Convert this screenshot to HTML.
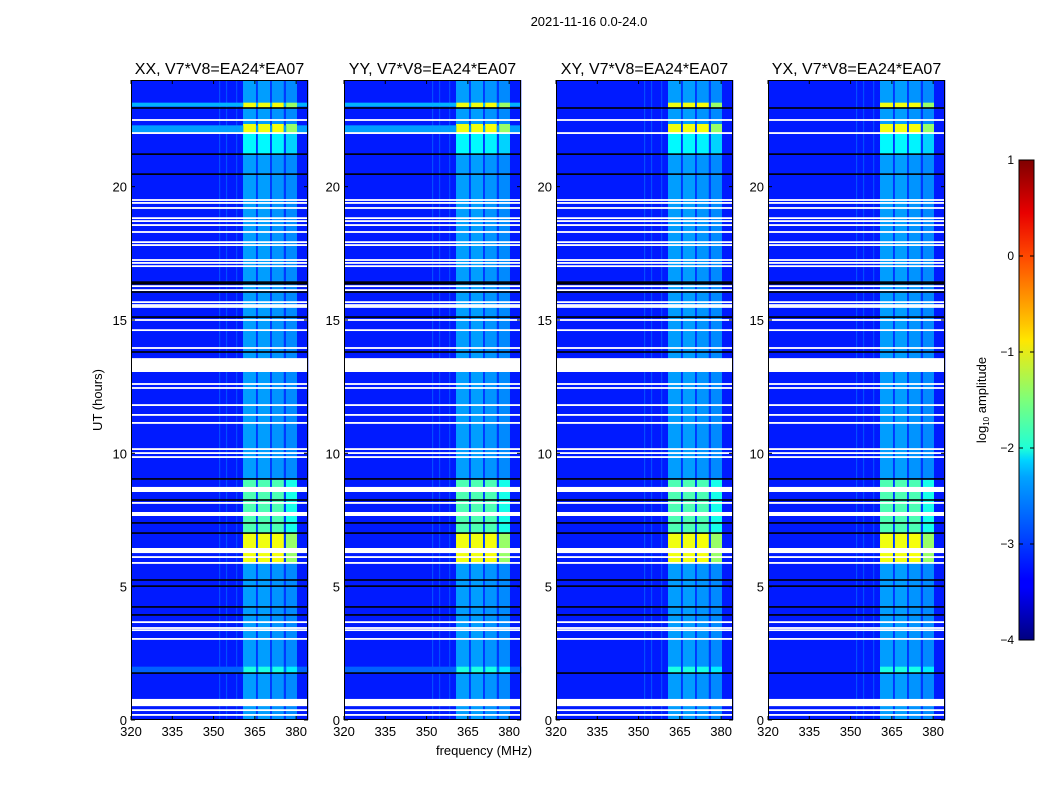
<!DOCTYPE html>
<html><head><meta charset="utf-8"><style>
body{margin:0;background:#fff;}
svg{display:block;font-family:"Liberation Sans",sans-serif;}
</style></head><body>
<svg id="fig" width="1050" height="800" viewBox="0 0 1050 800">
<defs>
<linearGradient id="jet" x1="0" y1="1" x2="0" y2="0">
<stop offset="0" stop-color="#00007f"/><stop offset="0.11" stop-color="#0000ff"/>
<stop offset="0.125" stop-color="#0000ff"/><stop offset="0.34" stop-color="#00a4ff"/>
<stop offset="0.375" stop-color="#00d4ff"/><stop offset="0.4" stop-color="#1fffd7"/>
<stop offset="0.5" stop-color="#7dff7a"/><stop offset="0.625" stop-color="#ffe600"/>
<stop offset="0.66" stop-color="#ffc400"/><stop offset="0.8" stop-color="#ff4800"/>
<stop offset="0.89" stop-color="#e80000"/><stop offset="1" stop-color="#7f0000"/>
</linearGradient>
</defs>
<text x="589" y="26" font-size="13" text-anchor="middle">2021-11-16 0.0-24.0</text>
<text x="484" y="755" font-size="13" text-anchor="middle">frequency (MHz)</text>
<text transform="translate(102,400) rotate(-90)" font-size="13" text-anchor="middle">UT (hours)</text>
<g id="panels"></g>
<g id="cbar"></g>
</svg>
<script>
// ---- data ----
const panelTitles = ["XX, V7*V8=EA24*EA07","YY, V7*V8=EA24*EA07","XY, V7*V8=EA24*EA07","YX, V7*V8=EA24*EA07"];
const panelHasBgRows = [true, true, false, false];
const xTicks = [320,335,350,365,380];
const yTicks = [0,5,10,15,20];
const cbTicks = [1,0,-1,-2,-3,-4];
// frequency bands (MHz edges) and base log10 amplitude
const bandStart = [320, 352.0, 352.4, 354.5, 354.9, 358.2, 358.6, 360.7, 365.4, 366.1, 370.5, 371.2, 375.5, 376.3, 380.3];
const bandEnd   = [352.0, 352.4, 354.5, 354.9, 358.2, 358.6, 360.7, 365.4, 366.1, 370.5, 371.2, 375.5, 376.3, 380.3, 384.3];
const bandLevel = [-3.25, -3.0, -3.25, -3.0, -3.25, -3.0, -3.25, -2.6, -3.1, -2.6, -3.1, -2.65, -3.1, -2.7, -3.25];
const bandRfi   = [0,0,0,0,0,0,0,1,0,1,0,1,0,1,0];
const bandRfiGain=[0,0,0,0,0,0,0,1.0,0,1.0,0,1.05,0,0.8,0];
// time segments (hours) with RFI boost
const segStart = [23.15, 22.95, 22.35, 22.0, 21.2, 9.0, 7.0, 5.9, 2.0, 1.76];
const segEnd   = [24.0, 23.15, 22.95, 22.35, 22.0, 21.2, 9.0, 7.0, 5.9, 2.0];
const segBoost = [0, 1.65, 0, 1.65, 0.45, 0, 0.85, 1.65, 0, 0.6];
// background (non-RFI) bright rows
const bgRowStart = [23.0, 22.0, 1.76];
const bgRowEnd   = [23.15, 22.3, 2.0];
const bgRowLevel = [-2.5, -2.6, -2.9];
// flagged (white) rows
const whiteLines = [22.5,22.01,19.5,19.39,19.2,18.82,18.71,18.56,18.3,17.92,17.81,17.25,17.14,17.02,16.27,16.12,15.67,15.56,15.49,15.0,14.62,13.95,12.6,12.45,11.81,11.44,11.14,10.16,10.01,9.86,8.14,6.11,5.89,3.67,3.45,3.37,3.04,0.37,0.19];
const whiteBlockStart = [13.05, 8.55, 7.65, 6.26, 0.52];
const whiteBlockEnd   = [13.57, 8.74, 7.8, 6.45, 0.79];
const blackLines = [22.95,21.22,20.47,16.42,16.36,16.05,15.11,13.8,9.04,8.25,7.39,7.01,5.25,5.02,4.24,3.94,1.76];

// ---- helpers ----
const NS="http://www.w3.org/2000/svg";
const panelX=[131,344,556,768], PW=177, Y0=80, Y1=720;
const FMIN=320, FMAX=384.3, TMIN=0, TMAX=24;
function jet(v){const x=Math.max(0,Math.min(1,(v+4)/5));
 const c=t=>Math.round(255*Math.max(0,Math.min(1,1.5-Math.abs(4*x-t))));
 return `rgb(${c(3)},${c(2)},${c(1)})`;}
function mk(tag,attrs,parent){const e=document.createElementNS(NS,tag);for(const k in attrs)e.setAttribute(k,attrs[k]);parent.appendChild(e);return e;}
const yOf=t=>Y1-(t-TMIN)/(TMAX-TMIN)*(Y1-Y0);

const root=document.getElementById('panels');
panelTitles.forEach((title,p)=>{
 const px=panelX[p];
 const xOf=f=>px+(f-FMIN)/(FMAX-FMIN)*PW;
 const g=mk('g',{},root);
 
 
 for(let b=0;b<bandStart.length;b++){
  const r=mk('rect',{x:xOf(bandStart[b]),y:Y0,width:xOf(bandEnd[b])-xOf(bandStart[b])+0.3,height:Y1-Y0,fill:jet(bandLevel[b])},g);
  
  
 }
 for(let s=0;s<segStart.length;s++){
  for(let b=0;b<bandStart.length;b++){
   if(!bandRfi[b]||segBoost[s]===0)continue;
   const v=bandLevel[b]+segBoost[s]*bandRfiGain[b];
   const r=mk('rect',{x:xOf(bandStart[b]),y:yOf(segEnd[s]),width:xOf(bandEnd[b])-xOf(bandStart[b]),height:yOf(segStart[s])-yOf(segEnd[s]),fill:jet(v)},g);
   
   
  }
 }
 if(panelHasBgRows[p]){
  for(let i=0;i<bgRowStart.length;i++){
   for(let b=0;b<bandStart.length;b++){
    if(bandRfi[b])continue;
    const r=mk('rect',{x:xOf(bandStart[b]),y:yOf(bgRowEnd[i]),width:xOf(bandEnd[b])-xOf(bandStart[b])+0.3,height:yOf(bgRowStart[i])-yOf(bgRowEnd[i]),fill:jet(Math.max(bgRowLevel[i],bandLevel[b]))},g);
    
    
   }
  }
 }
 whiteLines.forEach(t=>{
  const r=mk('rect',{x:px,y:yOf(t)-0.9,width:PW,height:1.8,fill:'#fff'},g);
  
  
 });
 whiteBlockStart.forEach((t,i)=>{
  const r=mk('rect',{x:px,y:yOf(whiteBlockEnd[i]),width:PW,height:yOf(t)-yOf(whiteBlockEnd[i]),fill:'#fff'},g);
  
  
 });
 blackLines.forEach(t=>{
  const r=mk('rect',{x:px,y:yOf(t)-0.8,width:PW,height:1.6,fill:'#000'},g);
  
  
 });
 const fr=mk('rect',{x:px+0.5,y:Y0+0.5,width:PW-1,height:Y1-Y0-1,fill:'none',stroke:'#000','stroke-width':1},g);
 
 
 const tt=mk('text',{x:px+PW/2,y:74,'font-size':16,'text-anchor':'middle'},g);
 tt.textContent=title;
 
 
 xTicks.forEach(f=>{
  const x=xOf(f);
  mk('line',{x1:x,x2:x,y1:Y1,y2:Y1-4,stroke:'#000'},g);
  mk('line',{x1:x,x2:x,y1:Y0,y2:Y0+4,stroke:'#000'},g);
  const t=mk('text',{x:x,y:736,'font-size':13,'text-anchor':'middle'},g);
  t.textContent=f;
  
  
 });
 yTicks.forEach(v=>{
  const y=yOf(v);
  mk('line',{x1:px,x2:px+4,y1:y,y2:y,stroke:'#000'},g);
  mk('line',{x1:px+PW,x2:px+PW-4,y1:y,y2:y,stroke:'#000'},g);
  const t=mk('text',{x:px-4,y:y+5,'font-size':13,'text-anchor':'end'},g);
  t.textContent=v;
  
  
 });
});
// colorbar
const cb=document.getElementById('cbar');
const CBX=1019,CBW=15,CBY0=160,CBY1=640;
const cbY=v=>CBY1-(v+4)/5*(CBY1-CBY0);
const cr=mk('rect',{x:CBX,y:CBY0,width:CBW,height:CBY1-CBY0,fill:'url(#jet)',stroke:'#000','stroke-width':1},cb);


cbTicks.forEach(v=>{
 const y=cbY(v);
 mk('line',{x1:CBX,x2:CBX+4,y1:y,y2:y,stroke:'#000'},cb);
 mk('line',{x1:CBX+CBW,x2:CBX+CBW-4,y1:y,y2:y,stroke:'#000'},cb);
 const t=mk('text',{x:1014,y:y+4,'font-size':12,'text-anchor':'end'},cb);
 t.textContent=v<0?'\u2212'+(-v):v;
 
 
});
const cl=mk('text',{transform:'translate(986,400) rotate(-90)','font-size':13,'text-anchor':'middle'},cb);
cl.innerHTML='log<tspan font-size="8" dy="3">10</tspan><tspan dy="-3"> amplitude</tspan>';


</script>
</body></html>
